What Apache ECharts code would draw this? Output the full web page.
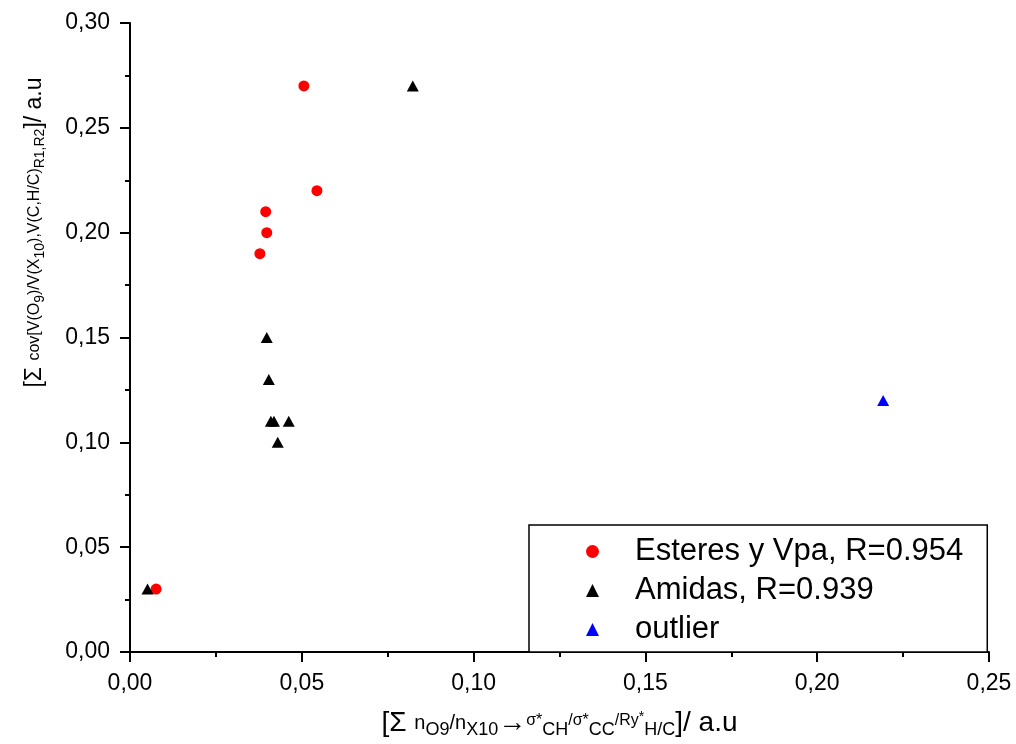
<!DOCTYPE html>
<html>
<head>
<meta charset="utf-8">
<script src="https://cdn.jsdelivr.net/npm/echarts@6/dist/echarts.min.js"></script>
<style>html,body{margin:0;padding:0;background:#fff}#c{width:1016px;height:744px}</style>
</head>
<body>
<div id="c"></div>
<script>
// Data
const seriesNames = ['Esteres y Vpa, R=0.954', 'Amidas, R=0.939', 'outlier'];
const esteresX = [0.0506, 0.0544, 0.0395, 0.0398, 0.0378, 0.0076];
const esteresY = [0.27, 0.22, 0.21, 0.20, 0.19, 0.03];
const amidasX = [0.0823, 0.0398, 0.0404, 0.0410, 0.0419, 0.0462, 0.0430, 0.0051];
const amidasY = [0.27, 0.15, 0.13, 0.11, 0.11, 0.11, 0.10, 0.03];
const outlierX = [0.2192];
const outlierY = [0.12];
const xTicks = [0, 0.05, 0.10, 0.15, 0.20, 0.25];
const yTicks = [0, 0.05, 0.10, 0.15, 0.20, 0.25, 0.30];

const FONT = 'Liberation Sans, Arial, sans-serif';
const zip = (xs, ys) => xs.map((x, i) => [x, ys[i]]);
const fmt = v => v.toFixed(2).replace('.', ',');

const richX = {
  big: {fontSize: 28, fontFamily: FONT, color: '#000'},
  mid: {fontSize: 20, fontFamily: FONT, color: '#000'},
  sm: {fontSize: 16, fontFamily: FONT, color: '#000', padding: [0, 0, 6, 0]},
  sub: {fontSize: 18, fontFamily: FONT, color: '#000', padding: [13, 0, 0, 0]},
  sup: {fontSize: 14, fontFamily: FONT, color: '#000', padding: [0, 0, 13, 0]}
};
const richY = {
  big: {fontSize: 23, fontFamily: FONT, color: '#000'},
  mid: {fontSize: 16, fontFamily: FONT, color: '#000'},
  sub: {fontSize: 14, fontFamily: FONT, color: '#000', padding: [11, 0, 0, 0]}
};

const yName = '{big|[Σ }{mid|cov[V(O}{sub|9}{mid|)/V(X}{sub|10}{mid|),V(C,H/C)}{sub|R1,R2}{big|]/ a.u}';
const xName = '{big|[Σ }{mid|n}{sub|O9}{mid|/n}{sub|X10}{big|→}{sm|σ*}{sub|CH}{sm|/σ*}{sub|CC}{sm|/Ry}{sup|*}{sub|H/C}{big|]/ a.u}';

const chart = echarts.init(document.getElementById('c'));
const axisCommon = {
  axisLine: {onZero: false, lineStyle: {color: '#000', width: 2}},
  axisTick: {show: true, inside: false, length: 10, lineStyle: {color: '#000', width: 2}},
  minorTick: {show: true, splitNumber: 2, length: 5, lineStyle: {color: '#000', width: 2}},
  splitLine: {show: false},
  axisLabel: {color: '#000', fontSize: 23, fontFamily: FONT, margin: 20, formatter: v => fmt(v)}
};

chart.setOption({
  animation: false,
  backgroundColor: '#fff',
  grid: {left: 130, right: 27, top: 23, bottom: 90, containLabel: false},
  xAxis: Object.assign({}, axisCommon, {
    type: 'value', min: xTicks[0], max: xTicks[xTicks.length - 1], interval: 0.05,
    name: xName, nameLocation: 'middle', nameGap: 56,
    nameTextStyle: {rich: richX}
  }),
  yAxis: Object.assign({}, axisCommon, {
    type: 'value', min: yTicks[0], max: yTicks[yTicks.length - 1], interval: 0.05,
    name: yName, nameLocation: 'middle', nameGap: 83, nameRotate: 90,
    nameTextStyle: {rich: richY, padding: [0, 0, 0, 210]}
  }),
  legend: {
    left: 529, top: 525, orient: 'vertical',
    padding: [10, 24, 6, 57],
    itemWidth: 13, itemHeight: 13, itemGap: 6,
    borderColor: '#000', borderWidth: 1.5, backgroundColor: '#fff',
    textStyle: {fontSize: 31, fontFamily: FONT, color: '#000', padding: [0, 0, 0, 31], lineHeight: 33},
    data: seriesNames
  },
  series: [
    {name: seriesNames[0], type: 'scatter', symbol: 'circle', symbolSize: 11,
     itemStyle: {color: '#ff0000', opacity: 1}, data: zip(esteresX, esteresY)},
    {name: seriesNames[1], type: 'scatter', symbol: 'triangle', symbolSize: [12, 11],
     itemStyle: {color: '#000', opacity: 1}, data: zip(amidasX, amidasY)},
    {name: seriesNames[2], type: 'scatter', symbol: 'triangle', symbolSize: [12, 11],
     itemStyle: {color: '#0000ff', opacity: 1}, data: zip(outlierX, outlierY)}
  ]
});
</script>
</body>
</html>
